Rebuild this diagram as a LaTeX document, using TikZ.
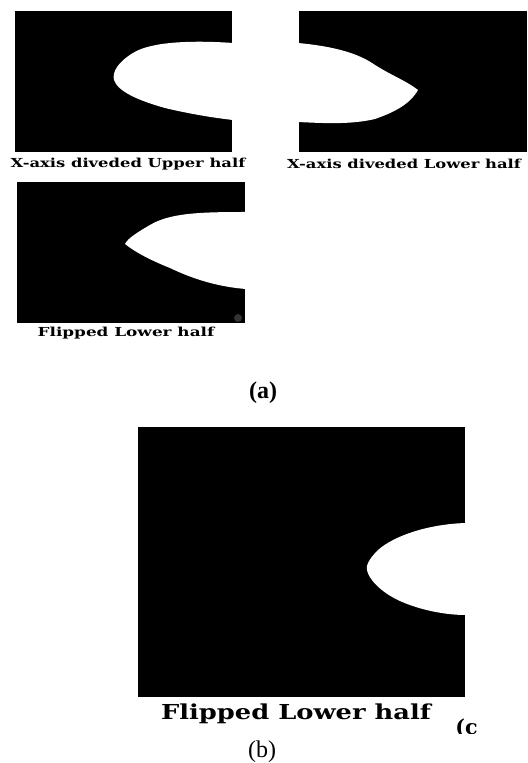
\documentclass[tikz,border=0pt]{standalone}
\usepackage{fontspec}
\setmainfont{Liberation Serif}
\newfontfamily\capfont{DejaVu Serif}
\usepackage{tikz}
\usetikzlibrary{positioning}

\newcommand{\widecap}[2]{\scalebox{#1}[1]{#2}}

\begin{document}
\begin{tikzpicture}[
    x=0.5pt, y=-0.5pt,
    panel/.style={fill=black},
    notch/.style={fill=white},
    caption/.style={font=\capfont\bfseries\fontsize{6.2}{7}\selectfont, inner sep=0pt},
    bigcaption/.style={font=\capfont\bfseries\fontsize{10.3}{12}\selectfont, inner sep=0pt},
    sublabel/.style={font=\fontsize{12}{14}\selectfont, inner sep=0pt}
]
\useasboundingbox[fill=white] (0,0) rectangle (527,763);

% (a) upper half
\fill[panel] (15,11) rectangle (232,152);
\fill[notch] (233,43) .. controls (190,40) and (150,42) .. (133,53)
    .. controls (118,62) and (112,72) .. (114,80)
    .. controls (118,92) and (140,101) .. (165,108)
    .. controls (190,114) and (215,118) .. (233,120) -- cycle;
\node[caption] (upper) at (128,164) {\widecap{1.32}{X-axis diveded Upper half}};

% (a) lower half
\fill[panel] (299,11) rectangle (527,152);
\fill[notch] (298,43) .. controls (330,46) and (355,52) .. (372,63)
    .. controls (390,75) and (405,80) .. (418,90)
    .. controls (410,104) and (395,112) .. (375,119)
    .. controls (350,125) and (320,123) .. (298,122) -- cycle;
\node[caption] (lower) at (404,164) {\widecap{1.32}{X-axis diveded Lower half}};

% (a) flipped lower half
\fill[panel] (17,182) rectangle (245,323);
\fill[notch] (246,212) .. controls (200,212) and (170,213) .. (150,225)
    .. controls (138,232) and (128,238) .. (125,244)
    .. controls (135,252) and (150,260) .. (170,268)
    .. controls (195,280) and (220,287) .. (246,289) -- cycle;
\fill[black!80] (238,318) circle (4);
\node[caption] (flipa) at (126,333) {\widecap{1.36}{Flipped Lower half}};

\node[sublabel, font=\bfseries\fontsize{12}{14}\selectfont] (suba) at (263,393) {(a)};

% (b) flipped lower half, enlarged
\fill[panel] (138,427) rectangle (465,697);
\fill[notch] (466,523) .. controls (430,524) and (395,535) .. (378,550)
    .. controls (368,560) and (366,566) .. (367,570)
    .. controls (368,578) and (380,592) .. (400,601)
    .. controls (420,610) and (445,615) .. (466,615) -- cycle;
\node[bigcaption] (flipb) at (296,714) {\widecap{1.25}{Flipped Lower half}};
\begin{scope}
  \clip (445,712) rectangle (480,733);
  \node[bigcaption, anchor=north west] (cut) at (455,718) {(c};
\end{scope}

\node[sublabel] (subb) at (262,752) {(b)};
\end{tikzpicture}
\end{document}
